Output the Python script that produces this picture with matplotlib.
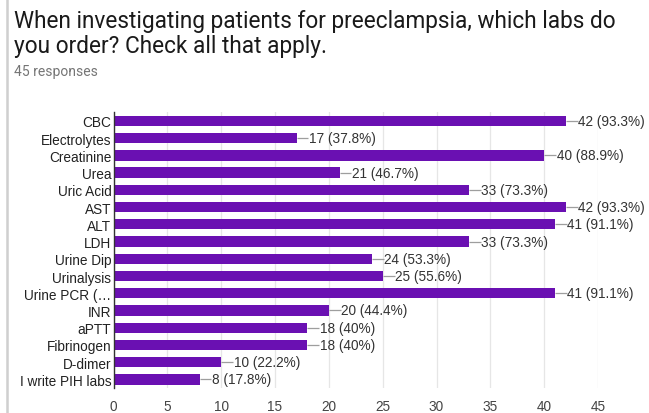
import matplotlib
matplotlib.use("Agg")
import matplotlib.pyplot as plt
from matplotlib.lines import Line2D

labs = ["CBC", "Electrolytes", "Creatinine", "Urea", "Uric Acid", "AST", "ALT", "LDH",
        "Urine Dip", "Urinalysis", "Urine PCR (…", "INR", "aPTT", "Fibrinogen",
        "D-dimer", "I write PIH labs"]
counts = [42, 17, 40, 21, 33, 42, 41, 33, 24, 25, 41, 20, 18, 18, 10, 8]
pct_labels = ["93.3%", "37.8%", "88.9%", "46.7%", "73.3%", "93.3%", "91.1%", "73.3%",
              "53.3%", "55.6%", "91.1%", "44.4%", "40%", "40%", "22.2%", "17.8%"]
x_ticks = [0, 5, 10, 15, 20, 25, 30, 35, 40, 45]
title = "When investigating patients for preeclampsia, which labs do\nyou order? Check all that apply."
subtitle = "45 responses"

W, H = 649, 414
fig = plt.figure(figsize=(W / 100, H / 100), dpi=100)
fig.patch.set_facecolor("white")

# card border on the left
fig.add_artist(Line2D([7 / W, 7 / W], [0, 1], color="#cfcfcf", lw=1.8,
                      transform=fig.transFigure))

fig.text(14 / W, 1 - 10 / H, title, ha="left", va="top", fontsize=16.3,
         family="Roboto", color="#1a1a1a", linespacing=1.1)
fig.text(14 / W, 1 - 72 / H, subtitle, ha="left", va="center", fontsize=10,
         family="Roboto", color="#757575")

left, right = 113.5 / W, 598 / W
top, bottom = 1 - 113 / H, 1 - 389 / H
ax = fig.add_axes([left, bottom, right - left, top - bottom])

y = list(range(len(labs)))
ax.barh(y, counts, height=0.6, color="#6a10b2", zorder=3)

for yi, c, p in zip(y, counts, pct_labels):
    ax.plot([c, c + 1.1], [yi, yi], color="#9e9e9e", lw=0.9, zorder=3,
            solid_capstyle="butt")
    ax.text(c + 1.15, yi, f"{c} ({p})", ha="left", va="center", fontsize=9.8,
            family="Liberation Sans", color="#333333")

ax.set_xlim(0, 45)
ax.set_ylim(15.5, -0.52)
ax.set_xticks(x_ticks)
ax.set_xticklabels([str(t) for t in x_ticks], family="Liberation Sans",
                   fontsize=9.8, color="#444444")
ax.set_yticks(y)
ax.set_yticklabels(labs, family="Liberation Sans", fontsize=9.8, color="#222222")
ax.tick_params(axis="both", length=0)
ax.tick_params(axis="x", pad=8)
ax.tick_params(axis="y", pad=1.5)
ax.grid(axis="x", color="#e6e6e6", lw=0.9, zorder=0)
for s in ["top", "right", "bottom"]:
    ax.spines[s].set_visible(False)
ax.spines["left"].set_color("#333333")
ax.spines["left"].set_linewidth(1.0)
ax.spines["left"].set_zorder(4)

fig.savefig("out.png", dpi=100, facecolor="white")
